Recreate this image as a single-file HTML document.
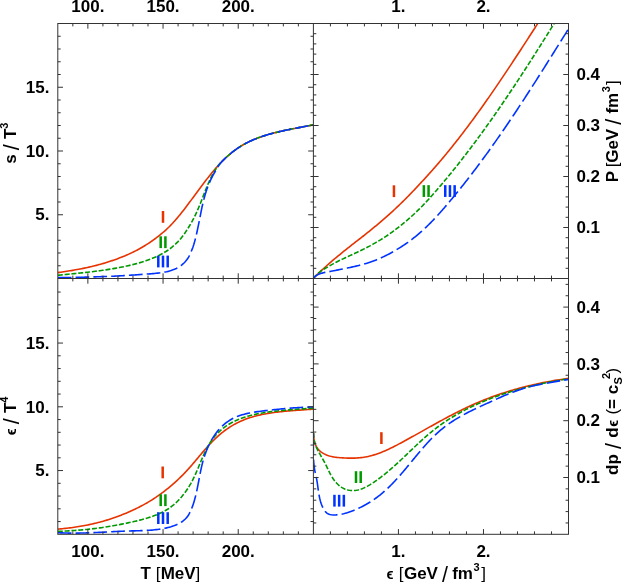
<!DOCTYPE html>
<html><head><meta charset="utf-8"><style>html,body{margin:0;padding:0;background:#fff}svg{display:block;will-change:transform}text{font-family:"Liberation Sans",sans-serif;font-weight:bold;fill:#000}</style></head><body>
<svg width="623" height="582" viewBox="0 0 623 582">
<rect width="623" height="582" fill="#fff"/>
<defs>
<clipPath id="cTL"><rect x="57.8" y="23.5" width="255.6" height="255.0"/></clipPath>
<clipPath id="cTR"><rect x="313.4" y="23.5" width="255.1" height="255.0"/></clipPath>
<clipPath id="cBL"><rect x="57.8" y="278.5" width="255.6" height="255.8"/></clipPath>
<clipPath id="cBR"><rect x="313.4" y="278.5" width="255.1" height="255.8"/></clipPath>
</defs>
<g clip-path="url(#cTL)" fill="none">
<path d="M57.80 272.59 L59.29 272.38 L60.79 272.18 L62.28 271.97 L63.78 271.75 L65.27 271.53 L66.76 271.30 L68.26 271.07 L69.75 270.83 L71.24 270.59 L72.73 270.34 L74.21 270.08 L75.70 269.82 L77.18 269.55 L78.67 269.27 L80.15 268.99 L81.63 268.70 L83.10 268.40 L84.58 268.10 L86.05 267.78 L87.52 267.46 L88.99 267.13 L90.46 266.79 L91.92 266.45 L93.39 266.09 L94.84 265.73 L96.30 265.36 L97.75 264.98 L99.20 264.59 L100.65 264.19 L102.10 263.78 L103.54 263.36 L104.97 262.93 L106.41 262.49 L107.84 262.04 L109.27 261.58 L110.69 261.11 L112.11 260.63 L113.53 260.14 L114.94 259.63 L116.34 259.13 L117.75 258.63 L119.15 258.10 L120.54 257.57 L121.93 257.03 L123.32 256.47 L124.70 255.90 L126.07 255.32 L127.44 254.72 L128.81 254.11 L130.17 253.49 L131.52 252.86 L132.87 252.21 L134.22 251.55 L135.56 250.88 L136.89 250.20 L138.21 249.50 L139.53 248.79 L140.84 248.05 L142.15 247.29 L143.44 246.52 L144.73 245.73 L146.01 244.94 L147.28 244.13 L148.55 243.31 L149.80 242.47 L151.05 241.63 L152.28 240.77 L153.51 239.90 L154.72 239.02 L155.93 238.12 L157.13 237.21 L158.31 236.30 L159.48 235.37 L160.65 234.43 L161.80 233.47 L162.94 232.51 L164.07 231.53 L165.18 230.54 L166.29 229.54 L167.38 228.53 L168.45 227.51 L169.52 226.47 L170.57 225.40 L171.61 224.30 L172.64 223.18 L173.66 222.06 L174.67 220.93 L175.67 219.79 L176.66 218.64 L177.65 217.48 L178.62 216.32 L179.59 215.15 L180.55 213.97 L181.50 212.78 L182.45 211.59 L183.39 210.39 L184.33 209.18 L185.26 207.97 L186.19 206.76 L187.11 205.54 L188.03 204.31 L188.95 203.08 L189.87 201.85 L190.78 200.62 L191.70 199.39 L192.61 198.16 L193.52 196.93 L194.44 195.69 L195.35 194.45 L196.27 193.21 L197.18 191.97 L198.10 190.72 L199.02 189.48 L199.95 188.24 L200.87 187.00 L201.80 185.76 L202.73 184.52 L203.67 183.29 L204.61 182.05 L205.55 180.83 L206.50 179.60 L207.45 178.38 L208.41 177.17 L209.37 175.96 L210.34 174.76 L211.32 173.56 L212.30 172.37 L213.29 171.17 L214.28 169.99 L215.29 168.81 L216.30 167.64 L217.32 166.48 L218.34 165.34 L219.38 164.20 L220.42 163.07 L221.47 161.96 L222.54 160.88 L223.61 159.83 L224.69 158.79 L225.78 157.77 L226.89 156.77 L228.00 155.78 L229.13 154.81 L230.27 153.85 L231.42 152.91 L232.58 151.98 L233.75 151.08 L234.94 150.19 L236.14 149.32 L237.35 148.47 L238.58 147.64 L239.82 146.83 L241.08 146.04 L242.35 145.27 L243.64 144.52 L244.94 143.80 L246.26 143.10 L247.59 142.41 L248.93 141.75 L250.29 141.11 L251.66 140.49 L253.04 139.89 L254.43 139.30 L255.83 138.74 L257.25 138.19 L258.67 137.65 L260.10 137.14 L261.54 136.64 L262.99 136.15 L264.45 135.68 L265.91 135.22 L267.39 134.78 L268.86 134.35 L270.34 133.93 L271.83 133.52 L273.32 133.13 L274.82 132.74 L276.32 132.37 L277.82 132.01 L279.32 131.65 L280.83 131.30 L282.34 130.97 L283.84 130.64 L285.35 130.31 L286.86 130.00 L288.36 129.68 L289.87 129.38 L291.37 129.08 L292.87 128.78 L294.37 128.49 L295.86 128.20 L297.35 127.92 L298.83 127.63 L300.31 127.35 L301.78 127.07 L303.25 126.79 L304.71 126.51 L306.16 126.23 L307.61 125.95 L309.04 125.66 L310.47 125.38 L311.89 125.09 L313.29 124.80" stroke="#e63300" stroke-width="1.6"/>
<path d="M57.81 275.30 L59.29 275.14 L60.78 274.99 L62.26 274.83 L63.75 274.68 L65.24 274.53 L66.74 274.38 L68.23 274.23 L69.72 274.08 L71.22 273.93 L72.72 273.78 L74.21 273.63 L75.71 273.48 L77.21 273.33 L78.71 273.17 L80.21 273.02 L81.71 272.86 L83.21 272.70 L84.72 272.54 L86.22 272.38 L87.72 272.21 L89.23 272.04 L90.73 271.86 L92.23 271.68 L93.74 271.50 L95.24 271.32 L96.74 271.13 L98.25 270.93 L99.75 270.73 L101.25 270.52 L102.76 270.31 L104.26 270.10 L105.76 269.87 L107.26 269.64 L108.76 269.41 L110.26 269.16 L111.76 268.91 L113.26 268.66 L114.75 268.39 L116.25 268.13 L117.74 267.86 L119.24 267.58 L120.73 267.29 L122.22 266.99 L123.71 266.68 L125.20 266.37 L126.69 266.04 L128.17 265.71 L129.65 265.36 L131.14 265.00 L132.61 264.64 L134.09 264.26 L135.57 263.87 L137.04 263.47 L138.51 263.06 L139.98 262.63 L141.45 262.19 L142.91 261.73 L144.37 261.25 L145.82 260.77 L147.27 260.27 L148.71 259.75 L150.14 259.21 L151.56 258.66 L152.97 258.09 L154.37 257.51 L155.76 256.90 L157.13 256.27 L158.49 255.63 L159.83 254.96 L161.16 254.27 L162.47 253.56 L163.76 252.82 L165.03 252.06 L166.28 251.28 L167.51 250.47 L168.72 249.64 L169.91 248.78 L171.10 247.86 L172.27 246.92 L173.42 245.95 L174.55 244.96 L175.65 243.95 L176.73 242.91 L177.79 241.85 L178.82 240.77 L179.84 239.66 L180.84 238.49 L181.81 237.24 L182.77 235.98 L183.71 234.71 L184.63 233.42 L185.53 232.11 L186.41 230.78 L187.27 229.45 L188.12 228.10 L188.93 226.77 L189.72 225.49 L190.50 224.20 L191.25 222.89 L191.99 221.57 L192.72 220.23 L193.43 218.89 L194.12 217.53 L194.80 216.16 L195.46 214.78 L196.11 213.40 L196.75 212.00 L197.38 210.60 L197.99 209.18 L198.60 207.77 L199.20 206.35 L199.79 204.92 L200.38 203.49 L200.95 202.06 L201.50 200.62 L202.05 199.19 L202.59 197.75 L203.14 196.32 L203.68 194.89 L204.23 193.46 L204.78 192.03 L205.34 190.61 L205.91 189.19 L206.48 187.78 L207.06 186.37 L207.64 184.97 L208.24 183.58 L208.85 182.20 L209.48 180.83 L210.12 179.47 L210.77 178.13 L211.44 176.79 L212.12 175.47 L212.83 174.16 L213.56 172.87 L214.30 171.59 L215.07 170.30 L215.86 169.01 L216.68 167.75 L217.52 166.53 L218.38 165.37 L219.27 164.27 L220.19 163.22 L221.16 162.21 L222.16 161.22 L223.17 160.24 L224.21 159.25 L225.28 158.25 L226.36 157.25 L227.46 156.26 L228.59 155.27 L229.73 154.30 L230.90 153.33 L232.08 152.38 L233.28 151.44 L234.50 150.52 L235.73 149.61 L236.99 148.72 L238.26 147.86 L239.54 147.01 L240.84 146.19 L242.16 145.39 L243.48 144.61 L244.83 143.86 L246.18 143.14 L247.55 142.43 L248.93 141.76 L250.31 141.10 L251.71 140.47 L253.12 139.85 L254.53 139.26 L255.96 138.69 L257.39 138.13 L258.82 137.60 L260.27 137.08 L261.71 136.58 L263.17 136.09 L264.62 135.63 L266.08 135.17 L267.55 134.73 L269.02 134.30 L270.49 133.89 L271.97 133.49 L273.45 133.10 L274.93 132.72 L276.41 132.35 L277.89 131.99 L279.38 131.64 L280.87 131.30 L282.36 130.96 L283.84 130.64 L285.33 130.32 L286.82 130.00 L288.31 129.69 L289.80 129.39 L291.29 129.09 L292.78 128.80 L294.26 128.51 L295.74 128.22 L297.22 127.94 L298.70 127.66 L300.18 127.37 L301.65 127.09 L303.12 126.81 L304.59 126.53 L306.05 126.25 L307.51 125.97 L308.96 125.68 L310.41 125.39 L311.85 125.10 L313.29 124.80" stroke="#009900" stroke-width="1.6" stroke-dasharray="5 1.85"/>
<path d="M57.79 277.60 L59.34 277.59 L60.89 277.57 L62.43 277.55 L63.96 277.54 L65.50 277.52 L67.03 277.50 L68.55 277.48 L70.07 277.45 L71.59 277.43 L73.11 277.40 L74.62 277.38 L76.13 277.35 L77.64 277.32 L79.15 277.29 L80.65 277.26 L82.15 277.22 L83.65 277.19 L85.15 277.15 L86.64 277.11 L88.14 277.08 L89.63 277.03 L91.12 276.99 L92.61 276.95 L94.10 276.90 L95.59 276.86 L97.07 276.81 L98.56 276.76 L100.05 276.71 L101.53 276.66 L103.02 276.61 L104.51 276.55 L105.99 276.49 L107.48 276.44 L108.97 276.38 L110.46 276.31 L111.94 276.25 L113.43 276.19 L114.92 276.12 L116.42 276.04 L117.91 275.96 L119.40 275.87 L120.90 275.79 L122.40 275.70 L123.90 275.61 L125.40 275.52 L126.90 275.43 L128.41 275.33 L129.92 275.24 L131.43 275.14 L132.95 275.04 L134.46 274.94 L135.98 274.84 L137.51 274.73 L139.04 274.63 L140.57 274.52 L142.10 274.41 L143.64 274.30 L145.18 274.18 L146.73 274.07 L148.28 273.95 L149.84 273.83 L151.39 273.71 L152.95 273.58 L154.51 273.44 L156.06 273.29 L157.61 273.12 L159.15 272.94 L160.68 272.74 L162.20 272.51 L163.71 272.27 L165.20 271.99 L166.67 271.69 L168.12 271.35 L169.55 270.98 L170.96 270.56 L172.34 270.09 L173.69 269.59 L175.01 269.03 L176.30 268.43 L177.55 267.78 L178.77 267.08 L179.95 266.33 L181.08 265.51 L182.18 264.64 L183.23 263.70 L184.24 262.72 L185.21 261.68 L186.13 260.58 L187.02 259.45 L187.86 258.27 L188.58 257.05 L189.25 255.81 L189.89 254.53 L190.49 253.21 L191.06 251.87 L191.61 250.50 L192.18 249.10 L192.72 247.69 L193.23 246.26 L193.71 244.81 L194.15 243.34 L194.57 241.86 L194.97 240.36 L195.34 238.86 L195.72 237.35 L196.10 235.82 L196.47 234.29 L196.81 232.76 L197.15 231.22 L197.48 229.69 L197.80 228.15 L198.11 226.61 L198.43 225.08 L198.74 223.55 L199.05 222.02 L199.36 220.49 L199.67 218.97 L199.99 217.45 L200.27 215.94 L200.56 214.43 L200.85 212.93 L201.15 211.43 L201.45 209.93 L201.76 208.44 L202.07 206.95 L202.40 205.47 L202.73 204.00 L203.08 202.53 L203.43 201.07 L203.80 199.61 L204.18 198.16 L204.58 196.71 L204.98 195.28 L205.41 193.84 L205.85 192.42 L206.30 191.00 L206.77 189.60 L207.27 188.19 L207.78 186.80 L208.31 185.42 L208.86 184.04 L209.43 182.67 L210.03 181.31 L210.65 179.96 L211.29 178.62 L211.96 177.29 L212.65 175.96 L213.37 174.65 L214.11 173.35 L214.88 171.99 L215.67 170.58 L216.49 169.16 L217.33 167.75 L218.20 166.39 L219.08 165.09 L219.99 163.86 L220.93 162.70 L221.88 161.61 L222.86 160.58 L223.86 159.59 L224.87 158.62 L225.91 157.66 L226.97 156.69 L228.05 155.74 L229.15 154.79 L230.27 153.84 L231.41 152.91 L232.56 151.99 L233.73 151.09 L234.93 150.20 L236.13 149.32 L237.36 148.46 L238.60 147.62 L239.86 146.80 L241.13 146.01 L242.42 145.23 L243.72 144.48 L245.04 143.75 L246.37 143.04 L247.71 142.35 L249.06 141.69 L250.43 141.05 L251.81 140.43 L253.19 139.82 L254.59 139.24 L256.00 138.67 L257.42 138.12 L258.85 137.59 L260.28 137.08 L261.72 136.58 L263.17 136.09 L264.63 135.62 L266.09 135.17 L267.56 134.73 L269.04 134.30 L270.52 133.88 L272.00 133.48 L273.49 133.09 L274.98 132.70 L276.47 132.33 L277.97 131.97 L279.47 131.62 L280.97 131.27 L282.47 130.94 L283.97 130.61 L285.47 130.29 L286.97 129.97 L288.46 129.66 L289.96 129.36 L291.46 129.06 L292.95 128.77 L294.44 128.48 L295.92 128.19 L297.41 127.90 L298.88 127.62 L300.35 127.34 L301.82 127.06 L303.28 126.78 L304.73 126.50 L306.18 126.22 L307.62 125.94 L309.05 125.66 L310.47 125.38 L311.89 125.09 L313.29 124.80" stroke="#0033ff" stroke-width="1.6" stroke-dasharray="13.7 4.1"/>
</g>
<g clip-path="url(#cTR)" fill="none">
<path d="M313.37 278.45 L314.39 277.34 L315.42 276.29 L316.45 275.25 L317.49 274.22 L318.54 273.20 L319.60 272.19 L320.66 271.19 L321.73 270.20 L322.81 269.22 L323.89 268.24 L324.98 267.28 L326.07 266.28 L327.17 265.28 L328.27 264.29 L329.38 263.31 L330.50 262.34 L331.62 261.37 L332.74 260.41 L333.87 259.46 L335.01 258.51 L336.15 257.57 L337.29 256.63 L338.43 255.70 L339.58 254.77 L340.73 253.82 L341.89 252.88 L343.05 251.93 L344.21 250.99 L345.38 250.05 L346.54 249.12 L347.71 248.19 L348.88 247.26 L350.06 246.33 L351.23 245.41 L352.41 244.49 L353.58 243.57 L354.76 242.65 L355.94 241.73 L357.12 240.82 L358.30 239.90 L359.49 238.99 L360.67 238.07 L361.85 237.16 L363.03 236.25 L364.21 235.33 L365.39 234.40 L366.57 233.45 L367.75 232.49 L368.93 231.54 L370.11 230.58 L371.29 229.62 L372.46 228.66 L373.63 227.70 L374.80 226.73 L375.97 225.76 L377.14 224.79 L378.30 223.82 L379.46 222.84 L380.62 221.86 L381.77 220.87 L382.92 219.88 L384.07 218.89 L385.22 217.89 L386.36 216.89 L387.49 215.88 L388.63 214.87 L389.76 213.86 L390.88 212.84 L392.00 211.81 L393.12 210.79 L394.24 209.75 L395.35 208.72 L396.46 207.68 L397.56 206.63 L398.66 205.58 L399.76 204.53 L400.85 203.48 L401.94 202.42 L403.03 201.35 L404.12 200.29 L405.20 199.21 L406.27 198.13 L407.35 197.04 L408.42 195.95 L409.48 194.86 L410.55 193.76 L411.61 192.66 L412.67 191.56 L413.72 190.45 L414.77 189.34 L415.82 188.22 L416.86 187.11 L417.90 185.99 L418.94 184.86 L419.98 183.74 L421.01 182.64 L422.04 181.54 L423.06 180.44 L424.09 179.34 L425.11 178.23 L426.12 177.12 L427.14 176.01 L428.15 174.90 L429.15 173.78 L430.16 172.66 L431.16 171.54 L432.16 170.41 L433.15 169.28 L434.15 168.15 L435.14 167.02 L436.12 165.89 L437.11 164.75 L438.09 163.61 L439.07 162.46 L440.05 161.32 L441.02 160.17 L441.99 159.02 L442.96 157.87 L443.92 156.72 L444.89 155.56 L445.85 154.40 L446.80 153.24 L447.76 152.08 L448.71 150.91 L449.66 149.74 L450.61 148.57 L451.56 147.40 L452.50 146.23 L453.44 145.05 L454.38 143.87 L455.31 142.69 L456.25 141.51 L457.18 140.33 L458.10 139.14 L459.03 137.95 L459.96 136.76 L460.88 135.57 L461.80 134.38 L462.71 133.18 L463.63 131.99 L464.54 130.79 L465.45 129.59 L466.36 128.39 L467.27 127.18 L468.18 125.98 L469.08 124.77 L469.98 123.56 L470.88 122.35 L471.78 121.14 L472.67 119.92 L473.56 118.71 L474.45 117.49 L475.34 116.27 L476.23 115.05 L477.12 113.83 L478.00 112.61 L478.88 111.39 L479.76 110.16 L480.64 108.93 L481.52 107.71 L482.40 106.48 L483.27 105.25 L484.14 104.01 L485.01 102.78 L485.88 101.55 L486.75 100.31 L487.62 99.08 L488.48 97.84 L489.34 96.60 L490.21 95.36 L491.07 94.12 L491.92 92.88 L492.78 91.63 L493.64 90.39 L494.49 89.14 L495.35 87.90 L496.20 86.65 L497.05 85.40 L497.90 84.16 L498.75 82.91 L499.59 81.66 L500.44 80.40 L501.28 79.15 L502.13 77.90 L502.97 76.65 L503.81 75.39 L504.65 74.14 L505.49 72.88 L506.33 71.63 L507.17 70.37 L508.00 69.11 L508.84 67.85 L509.67 66.60 L510.51 65.34 L511.34 64.08 L512.17 62.82 L513.00 61.56 L513.83 60.30 L514.66 59.04 L515.49 57.78 L516.32 56.51 L517.14 55.25 L517.97 53.99 L518.80 52.73 L519.62 51.46 L520.45 50.20 L521.27 48.94 L522.09 47.67 L522.92 46.41 L523.74 45.14 L524.56 43.88 L525.38 42.62 L526.20 41.35 L527.02 40.09 L527.84 38.82 L528.66 37.56 L529.48 36.30 L530.30 35.03 L531.12 33.77 L531.94 32.50 L532.75 31.24 L533.57 29.98 L534.39 28.71 L535.21 27.45 L536.02 26.18 L536.84 24.92 L537.66 23.66 L538.47 22.40 L539.29 21.13 L540.11 19.87 L540.92 18.61 L541.74 17.35 L542.56 16.09 L543.37 14.83 L544.19 13.57 L545.01 12.31" stroke="#e63300" stroke-width="1.6"/>
<path d="M313.34 278.38 L314.36 277.21 L315.40 276.09 L316.46 275.00 L317.55 273.94 L318.67 272.98 L319.80 272.08 L320.96 271.21 L322.14 270.38 L323.34 269.58 L324.56 268.80 L325.79 268.06 L327.05 267.33 L328.31 266.61 L329.60 265.83 L330.89 265.07 L332.20 264.33 L333.52 263.60 L334.85 262.89 L336.19 262.19 L337.54 261.51 L338.90 260.83 L340.26 260.17 L341.63 259.51 L343.01 258.86 L344.39 258.21 L345.77 257.57 L347.15 256.93 L348.53 256.29 L349.91 255.64 L351.30 255.00 L352.68 254.36 L354.06 253.71 L355.44 253.06 L356.81 252.41 L358.19 251.75 L359.56 251.09 L360.93 250.43 L362.29 249.77 L363.66 249.10 L365.02 248.42 L366.37 247.74 L367.72 247.06 L369.07 246.36 L370.41 245.66 L371.74 244.92 L373.07 244.17 L374.40 243.42 L375.71 242.66 L377.03 241.90 L378.33 241.13 L379.63 240.34 L380.92 239.56 L382.20 238.76 L383.47 237.95 L384.74 237.14 L385.99 236.31 L387.24 235.48 L388.48 234.63 L389.71 233.78 L390.94 232.92 L392.15 232.05 L393.36 231.17 L394.56 230.28 L395.75 229.38 L396.93 228.47 L398.11 227.56 L399.28 226.63 L400.44 225.71 L401.60 224.80 L402.74 223.88 L403.88 222.96 L405.02 222.02 L406.14 221.08 L407.27 220.12 L408.38 219.16 L409.49 218.19 L410.59 217.21 L411.68 216.23 L412.77 215.23 L413.86 214.23 L414.94 213.22 L416.01 212.20 L417.07 211.18 L418.13 210.15 L419.19 209.10 L420.24 208.06 L421.29 207.00 L422.33 205.94 L423.36 204.87 L424.39 203.79 L425.42 202.70 L426.44 201.61 L427.46 200.52 L428.47 199.42 L429.48 198.31 L430.49 197.20 L431.49 196.08 L432.49 194.96 L433.48 193.83 L434.48 192.70 L435.46 191.57 L436.45 190.43 L437.43 189.30 L438.41 188.15 L439.39 187.01 L440.37 185.86 L441.34 184.72 L442.31 183.57 L443.28 182.41 L444.25 181.26 L445.22 180.10 L446.18 178.95 L447.14 177.79 L448.10 176.62 L449.05 175.46 L450.01 174.30 L450.96 173.13 L451.91 171.96 L452.86 170.79 L453.80 169.62 L454.74 168.44 L455.69 167.27 L456.63 166.09 L457.56 164.91 L458.50 163.73 L459.43 162.54 L460.36 161.36 L461.29 160.17 L462.22 158.98 L463.14 157.79 L464.07 156.60 L464.99 155.41 L465.91 154.21 L466.83 153.02 L467.74 151.82 L468.66 150.62 L469.57 149.42 L470.48 148.22 L471.39 147.01 L472.29 145.81 L473.20 144.60 L474.10 143.39 L475.00 142.18 L475.90 140.97 L476.80 139.76 L477.70 138.54 L478.59 137.33 L479.49 136.11 L480.38 134.89 L481.27 133.67 L482.15 132.45 L483.04 131.23 L483.92 130.00 L484.81 128.78 L485.69 127.55 L486.57 126.32 L487.45 125.09 L488.32 123.86 L489.20 122.63 L490.07 121.40 L490.94 120.17 L491.81 118.93 L492.68 117.69 L493.55 116.46 L494.42 115.22 L495.28 113.98 L496.14 112.74 L497.01 111.50 L497.87 110.25 L498.72 109.01 L499.58 107.76 L500.44 106.52 L501.29 105.27 L502.15 104.02 L503.00 102.77 L503.85 101.52 L504.70 100.27 L505.55 99.02 L506.39 97.77 L507.24 96.51 L508.08 95.26 L508.93 94.00 L509.77 92.75 L510.61 91.49 L511.45 90.23 L512.29 88.97 L513.13 87.71 L513.96 86.45 L514.80 85.19 L515.63 83.93 L516.47 82.67 L517.30 81.40 L518.13 80.14 L518.96 78.87 L519.79 77.61 L520.61 76.34 L521.44 75.08 L522.27 73.81 L523.09 72.54 L523.92 71.27 L524.74 70.00 L525.56 68.73 L526.38 67.46 L527.20 66.19 L528.02 64.92 L528.84 63.65 L529.66 62.37 L530.47 61.10 L531.29 59.83 L532.10 58.55 L532.92 57.28 L533.73 56.00 L534.54 54.73 L535.35 53.45 L536.16 52.18 L536.97 50.90 L537.78 49.62 L538.59 48.35 L539.40 47.07 L540.21 45.79 L541.01 44.51 L541.82 43.23 L542.62 41.95 L543.43 40.68 L544.23 39.40 L545.04 38.12 L545.84 36.84 L546.64 35.56 L547.44 34.28 L548.24 33.00 L549.04 31.72 L549.84 30.44 L550.64 29.16 L551.44 27.87 L552.24 26.59 L553.04 25.31 L553.84 24.03 L554.63 22.75 L555.43 21.47 L556.23 20.19 L557.02 18.91 L557.82 17.63 L558.61 16.35 L559.41 15.06 L560.20 13.78 L561.00 12.50" stroke="#009900" stroke-width="1.6" stroke-dasharray="5 1.85"/>
<path d="M313.21 278.17 L314.31 277.11 L315.47 276.17 L316.70 275.35 L317.97 274.63 L319.30 274.04 L320.66 273.54 L322.06 273.11 L323.48 272.73 L324.93 272.40 L326.40 272.11 L327.88 271.85 L329.37 271.60 L330.85 271.32 L332.34 271.03 L333.83 270.74 L335.32 270.45 L336.81 270.16 L338.29 269.87 L339.78 269.58 L341.27 269.29 L342.76 268.99 L344.24 268.70 L345.73 268.40 L347.21 268.09 L348.69 267.78 L350.17 267.47 L351.65 267.14 L353.12 266.81 L354.59 266.48 L356.06 266.13 L357.53 265.77 L358.99 265.41 L360.45 265.03 L361.91 264.64 L363.36 264.24 L364.81 263.82 L366.25 263.40 L367.69 262.95 L369.12 262.49 L370.55 262.01 L371.97 261.50 L373.39 260.98 L374.80 260.43 L376.21 259.88 L377.61 259.30 L379.01 258.71 L380.40 258.11 L381.78 257.49 L383.16 256.86 L384.53 256.21 L385.90 255.54 L387.25 254.86 L388.60 254.17 L389.95 253.46 L391.29 252.74 L392.62 252.01 L393.94 251.26 L395.25 250.50 L396.56 249.72 L397.86 248.93 L399.15 248.13 L400.44 247.32 L401.71 246.51 L402.98 245.69 L404.24 244.86 L405.49 244.01 L406.74 243.15 L407.97 242.28 L409.20 241.39 L410.41 240.50 L411.62 239.59 L412.82 238.67 L414.01 237.74 L415.19 236.80 L416.36 235.85 L417.52 234.89 L418.67 233.91 L419.81 232.93 L420.94 231.94 L422.06 230.93 L423.17 229.92 L424.28 228.90 L425.38 227.87 L426.47 226.83 L427.55 225.79 L428.62 224.73 L429.69 223.67 L430.75 222.60 L431.80 221.52 L432.85 220.44 L433.89 219.35 L434.92 218.25 L435.95 217.15 L436.97 216.04 L437.99 214.93 L439.00 213.81 L440.01 212.69 L441.01 211.56 L442.01 210.43 L443.00 209.29 L443.99 208.15 L444.98 207.01 L445.96 205.87 L446.94 204.72 L447.92 203.57 L448.89 202.41 L449.86 201.26 L450.83 200.10 L451.80 198.94 L452.76 197.78 L453.73 196.62 L454.68 195.46 L455.64 194.29 L456.59 193.12 L457.55 191.95 L458.50 190.78 L459.44 189.61 L460.39 188.43 L461.33 187.25 L462.27 186.08 L463.21 184.89 L464.14 183.71 L465.08 182.53 L466.01 181.34 L466.94 180.16 L467.86 178.97 L468.79 177.78 L469.71 176.58 L470.63 175.39 L471.55 174.19 L472.46 173.00 L473.38 171.80 L474.29 170.60 L475.20 169.40 L476.10 168.19 L477.01 166.99 L477.91 165.78 L478.82 164.57 L479.72 163.36 L480.61 162.15 L481.51 160.94 L482.40 159.73 L483.29 158.51 L484.18 157.30 L485.07 156.08 L485.96 154.86 L486.84 153.64 L487.73 152.42 L488.61 151.19 L489.49 149.97 L490.37 148.74 L491.24 147.52 L492.12 146.29 L492.99 145.06 L493.86 143.83 L494.73 142.60 L495.60 141.36 L496.46 140.13 L497.33 138.89 L498.19 137.66 L499.05 136.42 L499.91 135.18 L500.77 133.94 L501.63 132.70 L502.48 131.46 L503.34 130.22 L504.19 128.97 L505.04 127.73 L505.89 126.48 L506.74 125.23 L507.59 123.98 L508.43 122.74 L509.28 121.49 L510.12 120.24 L510.96 118.98 L511.80 117.73 L512.64 116.48 L513.48 115.22 L514.32 113.97 L515.15 112.71 L515.99 111.45 L516.82 110.20 L517.65 108.94 L518.48 107.68 L519.31 106.42 L520.14 105.16 L520.97 103.90 L521.80 102.63 L522.62 101.37 L523.45 100.11 L524.27 98.84 L525.09 97.58 L525.92 96.31 L526.74 95.05 L527.56 93.78 L528.38 92.51 L529.19 91.24 L530.01 89.97 L530.83 88.71 L531.64 87.44 L532.46 86.17 L533.27 84.89 L534.09 83.62 L534.90 82.35 L535.71 81.08 L536.52 79.81 L537.33 78.53 L538.14 77.26 L538.95 75.99 L539.76 74.71 L540.57 73.44 L541.38 72.16 L542.19 70.89 L542.99 69.61 L543.80 68.34 L544.60 67.06 L545.41 65.78 L546.21 64.51 L547.02 63.23 L547.82 61.95 L548.62 60.68 L549.43 59.40 L550.23 58.12 L551.03 56.84 L551.83 55.57 L552.63 54.29 L553.43 53.01 L554.23 51.73 L555.03 50.45 L555.83 49.17 L556.63 47.89 L557.43 46.62 L558.23 45.34 L559.03 44.06 L559.83 42.78 L560.63 41.50 L561.43 40.22 L562.23 38.94 L563.03 37.67 L563.82 36.39 L564.62 35.11 L565.42 33.83 L566.22 32.55 L567.02 31.27 L567.82 30.00 L568.62 28.72 L569.41 27.44 L570.21 26.16 L571.01 24.89 L571.81 23.61 L572.61 22.33 L573.41 21.06 L574.21 19.78 L575.01 18.51" stroke="#0033ff" stroke-width="1.6" stroke-dasharray="13.7 4.1"/>
</g>
<g clip-path="url(#cBL)" fill="none">
<path d="M57.79 529.08 L59.30 528.96 L60.80 528.83 L62.31 528.69 L63.81 528.55 L65.31 528.39 L66.82 528.23 L68.32 528.05 L69.82 527.87 L71.32 527.68 L72.82 527.48 L74.32 527.26 L75.81 527.04 L77.31 526.81 L78.80 526.57 L80.30 526.32 L81.79 526.07 L83.28 525.80 L84.77 525.52 L86.25 525.23 L87.74 524.93 L89.22 524.63 L90.70 524.31 L92.17 523.98 L93.65 523.65 L95.12 523.30 L96.59 522.95 L98.06 522.58 L99.52 522.21 L100.98 521.81 L102.44 521.40 L103.90 520.98 L105.35 520.55 L106.80 520.11 L108.24 519.67 L109.68 519.21 L111.12 518.74 L112.55 518.26 L113.98 517.77 L115.41 517.27 L116.83 516.76 L118.25 516.24 L119.66 515.71 L121.07 515.17 L122.48 514.62 L123.88 514.06 L125.27 513.49 L126.67 512.91 L128.05 512.32 L129.43 511.71 L130.81 511.10 L132.18 510.48 L133.54 509.85 L134.90 509.20 L136.26 508.55 L137.61 507.88 L138.95 507.21 L140.29 506.52 L141.62 505.83 L142.95 505.12 L144.27 504.40 L145.58 503.67 L146.89 502.93 L148.19 502.18 L149.48 501.42 L150.77 500.63 L152.05 499.82 L153.32 499.00 L154.59 498.16 L155.85 497.32 L157.10 496.46 L158.35 495.60 L159.59 494.72 L160.82 493.83 L162.04 492.93 L163.26 492.02 L164.47 491.10 L165.67 490.17 L166.86 489.23 L168.04 488.27 L169.22 487.31 L170.39 486.33 L171.55 485.35 L172.70 484.35 L173.84 483.34 L174.98 482.32 L176.10 481.32 L177.22 480.30 L178.32 479.28 L179.42 478.24 L180.51 477.19 L181.59 476.13 L182.66 475.06 L183.72 473.97 L184.77 472.88 L185.82 471.77 L186.85 470.66 L187.88 469.53 L188.89 468.40 L189.90 467.25 L190.91 466.10 L191.91 464.95 L192.91 463.79 L193.90 462.63 L194.89 461.46 L195.87 460.29 L196.86 459.12 L197.84 457.95 L198.82 456.78 L199.80 455.61 L200.79 454.44 L201.77 453.28 L202.76 452.12 L203.75 450.96 L204.75 449.81 L205.75 448.67 L206.75 447.54 L207.76 446.41 L208.78 445.29 L209.80 444.19 L210.83 443.09 L211.87 442.01 L212.92 440.94 L213.98 439.88 L215.05 438.84 L216.13 437.81 L217.22 436.80 L218.33 435.81 L219.45 434.84 L220.58 433.88 L221.73 432.95 L222.88 432.03 L224.06 431.13 L225.24 430.26 L226.44 429.40 L227.65 428.56 L228.88 427.74 L230.11 426.94 L231.36 426.17 L232.63 425.41 L233.90 424.68 L235.19 423.96 L236.49 423.27 L237.81 422.60 L239.14 421.96 L240.48 421.33 L241.83 420.73 L243.19 420.15 L244.57 419.60 L245.96 419.06 L247.36 418.55 L248.78 418.06 L250.20 417.60 L251.63 417.15 L253.08 416.72 L254.53 416.31 L255.99 415.92 L257.46 415.55 L258.94 415.20 L260.43 414.86 L261.92 414.54 L263.42 414.24 L264.92 413.95 L266.43 413.67 L267.95 413.41 L269.46 413.16 L270.99 412.93 L272.51 412.70 L274.04 412.49 L275.58 412.29 L277.11 412.10 L278.65 411.92 L280.18 411.75 L281.72 411.58 L283.26 411.43 L284.80 411.28 L286.33 411.14 L287.87 411.01 L289.40 410.88 L290.93 410.76 L292.46 410.64 L293.99 410.52 L295.51 410.41 L297.02 410.30 L298.54 410.19 L300.04 410.09 L301.55 409.98 L303.04 409.88 L304.53 409.77 L306.01 409.67 L307.48 409.56 L308.95 409.45 L310.41 409.34 L311.86 409.23 L313.29 409.11" stroke="#e63300" stroke-width="1.6"/>
<path d="M57.80 531.40 L59.34 531.33 L60.89 531.26 L62.43 531.19 L63.96 531.12 L65.49 531.04 L67.02 530.95 L68.54 530.86 L70.05 530.77 L71.57 530.67 L73.07 530.57 L74.58 530.46 L76.08 530.35 L77.58 530.23 L79.08 530.11 L80.57 529.98 L82.06 529.85 L83.55 529.71 L85.03 529.57 L86.51 529.43 L87.99 529.28 L89.47 529.12 L90.95 528.96 L92.43 528.79 L93.90 528.62 L95.38 528.45 L96.85 528.27 L98.32 528.08 L99.79 527.89 L101.26 527.68 L102.74 527.46 L104.21 527.23 L105.68 527.00 L107.15 526.77 L108.62 526.53 L110.10 526.28 L111.57 526.03 L113.05 525.77 L114.52 525.51 L116.00 525.24 L117.48 524.97 L118.96 524.69 L120.45 524.41 L121.93 524.12 L123.42 523.82 L124.91 523.52 L126.40 523.21 L127.90 522.90 L129.40 522.58 L130.90 522.26 L132.41 521.93 L133.91 521.59 L135.42 521.24 L136.93 520.88 L138.43 520.52 L139.93 520.14 L141.43 519.75 L142.93 519.35 L144.42 518.93 L145.90 518.50 L147.38 518.06 L148.84 517.59 L150.30 517.12 L151.75 516.62 L153.19 516.11 L154.61 515.57 L156.02 515.02 L157.42 514.44 L158.80 513.85 L160.17 513.23 L161.52 512.59 L162.85 511.92 L164.17 511.22 L165.46 510.51 L166.74 509.76 L167.99 508.99 L169.22 508.18 L170.43 507.34 L171.61 506.43 L172.78 505.50 L173.92 504.55 L175.04 503.56 L176.13 502.56 L177.21 501.53 L178.26 500.47 L179.29 499.40 L180.30 498.30 L181.29 497.18 L182.26 496.03 L183.20 494.87 L184.13 493.69 L185.03 492.48 L185.91 491.26 L186.77 490.02 L187.61 488.75 L188.43 487.47 L189.23 486.18 L190.00 484.86 L190.76 483.57 L191.49 482.25 L192.21 480.92 L192.90 479.57 L193.58 478.21 L194.24 476.83 L194.89 475.45 L195.53 474.06 L196.15 472.65 L196.77 471.24 L197.37 469.83 L197.97 468.41 L198.57 466.98 L199.16 465.56 L199.76 464.13 L200.35 462.71 L200.94 461.28 L201.54 459.86 L202.14 458.45 L202.75 457.04 L203.37 455.64 L203.99 454.24 L204.63 452.86 L205.28 451.49 L205.95 450.13 L206.63 448.78 L207.33 447.45 L208.05 446.13 L208.79 444.83 L209.55 443.55 L210.34 442.29 L211.16 441.06 L212.00 439.84 L212.87 438.65 L213.77 437.49 L214.70 436.35 L215.66 435.23 L216.66 434.15 L217.68 433.09 L218.73 432.06 L219.81 431.06 L220.92 430.08 L222.06 429.14 L223.22 428.22 L224.40 427.32 L225.60 426.46 L226.83 425.62 L228.08 424.81 L229.35 424.03 L230.64 423.28 L231.95 422.56 L233.28 421.86 L234.62 421.20 L235.98 420.56 L237.35 419.95 L238.74 419.36 L240.14 418.80 L241.55 418.27 L242.98 417.76 L244.41 417.28 L245.86 416.81 L247.32 416.37 L248.78 415.95 L250.25 415.55 L251.73 415.17 L253.22 414.81 L254.71 414.46 L256.21 414.14 L257.71 413.83 L259.22 413.53 L260.73 413.25 L262.24 412.98 L263.75 412.73 L265.26 412.49 L266.77 412.26 L268.28 412.04 L269.78 411.83 L271.29 411.63 L272.79 411.44 L274.30 411.26 L275.80 411.09 L277.30 410.92 L278.80 410.77 L280.30 410.62 L281.80 410.47 L283.30 410.33 L284.79 410.20 L286.29 410.07 L287.79 409.95 L289.28 409.83 L290.78 409.71 L292.28 409.60 L293.77 409.49 L295.27 409.38 L296.77 409.28 L298.26 409.17 L299.76 409.07 L301.26 408.96 L302.76 408.86 L304.26 408.76 L305.77 408.65 L307.27 408.55 L308.77 408.44 L310.28 408.33 L311.79 408.22 L313.30 408.10" stroke="#009900" stroke-width="1.6" stroke-dasharray="5 1.85"/>
<path d="M57.80 532.70 L59.35 532.78 L60.89 532.86 L62.43 532.92 L63.97 532.98 L65.50 533.02 L67.03 533.06 L68.55 533.09 L70.08 533.11 L71.60 533.12 L73.12 533.13 L74.63 533.13 L76.15 533.12 L77.66 533.11 L79.17 533.09 L80.67 533.06 L82.18 533.03 L83.68 532.99 L85.19 532.95 L86.69 532.91 L88.19 532.85 L89.68 532.80 L91.18 532.74 L92.68 532.68 L94.18 532.62 L95.67 532.55 L97.17 532.48 L98.66 532.41 L100.16 532.33 L101.65 532.26 L103.15 532.18 L104.64 532.10 L106.14 532.02 L107.63 531.95 L109.13 531.87 L110.63 531.79 L112.13 531.71 L113.63 531.64 L115.13 531.56 L116.63 531.49 L118.14 531.42 L119.64 531.35 L121.15 531.28 L122.66 531.22 L124.18 531.16 L125.69 531.10 L127.21 531.04 L128.73 531.00 L130.25 530.95 L131.77 530.91 L133.30 530.87 L134.83 530.83 L136.36 530.79 L137.89 530.75 L139.42 530.71 L140.95 530.66 L142.48 530.60 L144.01 530.54 L145.54 530.47 L147.07 530.40 L148.59 530.31 L150.11 530.20 L151.63 530.09 L153.15 529.96 L154.66 529.81 L156.17 529.65 L157.67 529.46 L159.17 529.26 L160.66 529.04 L162.15 528.79 L163.63 528.52 L165.10 528.22 L166.57 527.89 L168.03 527.54 L169.48 527.16 L170.92 526.75 L172.35 526.30 L173.77 525.82 L175.16 525.29 L176.53 524.73 L177.86 524.11 L179.17 523.45 L180.43 522.73 L181.65 521.96 L182.83 521.13 L183.95 520.23 L185.02 519.27 L186.02 518.24 L186.96 517.13 L187.84 515.95 L188.65 514.71 L189.40 513.41 L190.11 512.07 L190.76 510.68 L191.37 509.26 L191.94 507.82 L192.48 506.37 L192.99 504.92 L193.48 503.45 L193.94 501.99 L194.38 500.52 L194.79 499.05 L195.19 497.58 L195.57 496.10 L195.93 494.62 L196.27 493.14 L196.60 491.66 L196.92 490.17 L197.23 488.68 L197.53 487.20 L197.83 485.71 L198.11 484.22 L198.40 482.73 L198.68 481.23 L198.96 479.74 L199.23 478.25 L199.52 476.76 L199.80 475.27 L200.09 473.78 L200.39 472.29 L200.69 470.81 L201.01 469.32 L201.34 467.84 L201.68 466.35 L202.03 464.87 L202.40 463.40 L202.79 461.92 L203.20 460.45 L203.63 458.98 L204.08 457.52 L204.55 456.06 L205.04 454.61 L205.55 453.17 L206.08 451.73 L206.64 450.31 L207.21 448.90 L207.81 447.50 L208.44 446.11 L209.08 444.74 L209.75 443.38 L210.44 442.04 L211.16 440.71 L211.90 439.41 L212.67 438.12 L213.46 436.85 L214.27 435.61 L215.11 434.39 L215.98 433.19 L216.87 432.02 L217.79 430.87 L218.74 429.75 L219.71 428.65 L220.71 427.59 L221.74 426.56 L222.80 425.55 L223.88 424.58 L225.00 423.64 L226.14 422.74 L227.31 421.87 L228.51 421.04 L229.74 420.24 L231.00 419.49 L232.29 418.77 L233.61 418.09 L234.96 417.46 L236.34 416.86 L237.75 416.30 L239.18 415.78 L240.63 415.29 L242.10 414.83 L243.59 414.40 L245.10 414.00 L246.63 413.63 L248.16 413.28 L249.71 412.96 L251.27 412.66 L252.84 412.38 L254.41 412.12 L255.98 411.87 L257.56 411.64 L259.13 411.42 L260.71 411.22 L262.28 411.03 L263.84 410.84 L265.39 410.66 L266.94 410.49 L268.48 410.32 L270.00 410.15 L271.51 409.98 L273.01 409.82 L274.50 409.66 L275.98 409.50 L277.45 409.35 L278.92 409.20 L280.39 409.05 L281.84 408.91 L283.30 408.77 L284.75 408.63 L286.20 408.50 L287.66 408.37 L289.11 408.25 L290.56 408.13 L292.02 408.02 L293.48 407.91 L294.95 407.80 L296.42 407.70 L297.90 407.61 L299.39 407.52 L300.88 407.44 L302.39 407.36 L303.91 407.29 L305.44 407.23 L306.98 407.17 L308.54 407.12 L310.11 407.07 L311.70 407.03 L313.31 407.00" stroke="#0033ff" stroke-width="1.6" stroke-dasharray="13.7 4.1"/>
</g>
<g clip-path="url(#cBR)" fill="none">
<path d="M313.64 433.15 L313.64 434.67 L313.70 436.20 L313.84 437.75 L314.05 439.29 L314.34 440.81 L314.71 442.31 L315.17 443.78 L315.73 445.19 L316.38 446.54 L317.14 447.82 L318.00 449.02 L318.97 450.12 L320.04 451.13 L321.20 452.06 L322.43 452.89 L323.72 453.65 L325.06 454.33 L326.45 454.92 L327.86 455.45 L329.30 455.91 L330.75 456.31 L332.23 456.65 L333.73 456.93 L335.24 457.18 L336.76 457.38 L338.28 457.54 L339.82 457.68 L341.36 457.79 L342.89 457.88 L344.43 457.96 L345.96 458.03 L347.49 458.08 L349.02 458.12 L350.53 458.14 L352.05 458.14 L353.56 458.12 L355.06 458.08 L356.56 458.01 L358.06 457.92 L359.55 457.80 L361.03 457.65 L362.51 457.47 L363.98 457.25 L365.44 457.00 L366.90 456.72 L368.35 456.41 L369.80 456.07 L371.24 455.70 L372.68 455.30 L374.11 454.87 L375.53 454.42 L376.95 453.95 L378.37 453.45 L379.78 452.93 L381.19 452.39 L382.59 451.82 L383.98 451.24 L385.38 450.64 L386.76 450.03 L388.15 449.40 L389.53 448.75 L390.90 448.09 L392.28 447.42 L393.65 446.74 L395.01 446.04 L396.38 445.34 L397.74 444.63 L399.09 443.91 L400.45 443.19 L401.80 442.46 L403.15 441.73 L404.49 441.00 L405.84 440.26 L407.18 439.53 L408.52 438.79 L409.86 438.05 L411.19 437.31 L412.53 436.57 L413.86 435.83 L415.19 435.08 L416.52 434.34 L417.85 433.60 L419.18 432.85 L420.51 432.11 L421.83 431.37 L423.16 430.62 L424.48 429.88 L425.81 429.14 L427.13 428.40 L428.45 427.66 L429.77 426.92 L431.10 426.18 L432.42 425.45 L433.74 424.71 L435.06 423.98 L436.39 423.25 L437.71 422.52 L439.03 421.79 L440.36 421.07 L441.68 420.35 L443.01 419.63 L444.33 418.91 L445.66 418.20 L446.99 417.49 L448.32 416.78 L449.65 416.08 L450.99 415.38 L452.32 414.68 L453.66 413.99 L454.99 413.31 L456.33 412.62 L457.68 411.94 L459.02 411.27 L460.37 410.60 L461.72 409.93 L463.07 409.28 L464.42 408.62 L465.78 407.97 L467.14 407.33 L468.50 406.69 L469.86 406.06 L471.23 405.43 L472.60 404.81 L473.98 404.20 L475.36 403.59 L476.74 402.99 L478.12 402.40 L479.51 401.81 L480.91 401.23 L482.30 400.66 L483.70 400.10 L485.11 399.54 L486.52 398.99 L487.93 398.44 L489.34 397.90 L490.76 397.37 L492.18 396.85 L493.60 396.33 L495.03 395.82 L496.46 395.31 L497.89 394.81 L499.32 394.32 L500.76 393.84 L502.20 393.36 L503.65 392.89 L505.09 392.43 L506.54 391.97 L507.99 391.52 L509.44 391.07 L510.90 390.63 L512.35 390.20 L513.81 389.77 L515.27 389.36 L516.74 388.94 L518.20 388.54 L519.67 388.14 L521.14 387.74 L522.61 387.36 L524.08 386.98 L525.55 386.60 L527.02 386.23 L528.50 385.87 L529.98 385.52 L531.46 385.17 L532.93 384.82 L534.42 384.49 L535.90 384.16 L537.38 383.83 L538.86 383.51 L540.35 383.20 L541.83 382.90 L543.32 382.60 L544.80 382.30 L546.29 382.01 L547.78 381.73 L549.26 381.46 L550.75 381.19 L552.24 380.92 L553.73 380.66 L555.21 380.41 L556.70 380.16 L558.19 379.92 L559.68 379.69 L561.17 379.46 L562.65 379.24 L564.14 379.02 L565.63 378.81 L567.11 378.60 L568.60 378.40" stroke="#e63300" stroke-width="1.6"/>
<path d="M313.60 433.16 L313.53 434.77 L313.55 436.34 L313.68 437.87 L313.88 439.37 L314.17 440.85 L314.54 442.29 L314.97 443.71 L315.46 445.11 L316.01 446.49 L316.61 447.85 L317.25 449.19 L317.93 450.52 L318.64 451.85 L319.37 453.16 L320.11 454.47 L320.87 455.78 L321.63 457.09 L322.39 458.41 L323.14 459.73 L323.88 461.05 L324.60 462.39 L325.29 463.74 L325.96 465.10 L326.62 466.47 L327.27 467.83 L327.93 469.20 L328.58 470.56 L329.25 471.92 L329.94 473.26 L330.65 474.59 L331.39 475.90 L332.16 477.19 L332.97 478.46 L333.83 479.70 L334.75 480.91 L335.71 482.08 L336.72 483.21 L337.78 484.28 L338.89 485.29 L340.05 486.23 L341.25 487.09 L342.50 487.87 L343.79 488.55 L345.12 489.14 L346.50 489.62 L347.90 490.01 L349.33 490.29 L350.76 490.48 L352.21 490.56 L353.65 490.55 L355.08 490.45 L356.51 490.26 L357.92 489.98 L359.33 489.62 L360.72 489.19 L362.11 488.70 L363.49 488.14 L364.85 487.52 L366.21 486.85 L367.55 486.14 L368.88 485.38 L370.20 484.60 L371.51 483.78 L372.81 482.93 L374.10 482.07 L375.37 481.20 L376.64 480.31 L377.89 479.42 L379.13 478.51 L380.36 477.59 L381.58 476.66 L382.79 475.73 L383.99 474.78 L385.18 473.82 L386.36 472.86 L387.53 471.89 L388.70 470.91 L389.86 469.92 L391.01 468.93 L392.16 467.93 L393.29 466.93 L394.43 465.92 L395.55 464.90 L396.67 463.88 L397.79 462.86 L398.90 461.83 L400.01 460.80 L401.12 459.77 L402.22 458.73 L403.31 457.70 L404.41 456.66 L405.50 455.62 L406.59 454.57 L407.68 453.53 L408.77 452.49 L409.86 451.45 L410.95 450.41 L412.04 449.37 L413.13 448.33 L414.22 447.29 L415.31 446.26 L416.40 445.23 L417.50 444.20 L418.59 443.18 L419.69 442.16 L420.80 441.15 L421.90 440.14 L423.01 439.13 L424.13 438.13 L425.25 437.14 L426.37 436.16 L427.50 435.18 L428.64 434.21 L429.78 433.24 L430.93 432.29 L432.09 431.34 L433.25 430.41 L434.42 429.48 L435.60 428.56 L436.79 427.65 L437.99 426.75 L439.19 425.87 L440.40 424.99 L441.62 424.12 L442.85 423.26 L444.08 422.41 L445.33 421.58 L446.58 420.75 L447.83 419.93 L449.10 419.12 L450.37 418.31 L451.64 417.52 L452.93 416.74 L454.22 415.97 L455.52 415.20 L456.82 414.45 L458.13 413.70 L459.45 412.96 L460.77 412.24 L462.10 411.52 L463.43 410.81 L464.77 410.10 L466.11 409.41 L467.46 408.73 L468.82 408.05 L470.18 407.38 L471.55 406.73 L472.92 406.08 L474.29 405.43 L475.67 404.80 L477.06 404.17 L478.45 403.56 L479.84 402.95 L481.24 402.35 L482.64 401.75 L484.05 401.17 L485.46 400.59 L486.87 400.02 L488.29 399.46 L489.71 398.90 L491.14 398.36 L492.57 397.82 L494.00 397.29 L495.43 396.76 L496.87 396.25 L498.31 395.74 L499.76 395.24 L501.20 394.74 L502.65 394.25 L504.10 393.77 L505.55 393.30 L507.01 392.83 L508.47 392.37 L509.93 391.92 L511.39 391.48 L512.85 391.04 L514.32 390.60 L515.78 390.18 L517.25 389.76 L518.72 389.35 L520.19 388.94 L521.66 388.54 L523.13 388.15 L524.61 387.76 L526.08 387.38 L527.55 387.01 L529.03 386.64 L530.50 386.28 L531.98 385.92 L533.45 385.57 L534.93 385.23 L536.40 384.89 L537.88 384.55 L539.35 384.23 L540.83 383.91 L542.30 383.59 L543.77 383.28 L545.25 382.97 L546.72 382.68 L548.19 382.38 L549.65 382.09 L551.12 381.81 L552.59 381.53 L554.05 381.26 L555.52 380.99 L556.98 380.73 L558.44 380.47 L559.89 380.22 L561.35 379.97 L562.80 379.72 L564.25 379.49 L565.70 379.25 L567.15 379.02 L568.59 378.80" stroke="#009900" stroke-width="1.6" stroke-dasharray="5 1.85"/>
<path d="M313.37 433.21 L313.41 434.71 L313.44 436.21 L313.45 437.72 L313.45 439.22 L313.45 440.73 L313.44 442.24 L313.42 443.75 L313.41 445.26 L313.39 446.78 L313.38 448.29 L313.37 449.80 L313.37 451.31 L313.37 452.82 L313.39 454.33 L313.42 455.84 L313.46 457.35 L313.52 458.86 L313.60 460.36 L313.70 461.86 L313.82 463.36 L313.97 464.86 L314.15 466.36 L314.35 467.85 L314.59 469.34 L314.86 470.82 L315.16 472.30 L315.48 473.78 L315.81 475.26 L316.14 476.73 L316.45 478.21 L316.74 479.68 L317.00 481.16 L317.24 482.64 L317.46 484.13 L317.67 485.62 L317.88 487.11 L318.08 488.61 L318.29 490.11 L318.51 491.61 L318.74 493.11 L318.99 494.60 L319.26 496.09 L319.56 497.57 L319.89 499.04 L320.26 500.50 L320.67 501.95 L321.13 503.37 L321.63 504.78 L322.19 506.17 L322.82 507.53 L323.50 508.87 L324.27 510.15 L325.13 511.34 L326.10 512.42 L327.20 513.33 L328.44 514.05 L329.85 514.54 L331.38 514.82 L332.99 514.94 L334.59 514.96 L336.17 514.90 L337.71 514.78 L339.23 514.59 L340.73 514.35 L342.20 514.05 L343.66 513.71 L345.10 513.33 L346.53 512.91 L347.95 512.46 L349.37 511.99 L350.78 511.49 L352.19 510.97 L353.59 510.42 L354.99 509.86 L356.38 509.27 L357.77 508.66 L359.14 508.03 L360.51 507.37 L361.87 506.70 L363.22 506.00 L364.56 505.29 L365.89 504.56 L367.20 503.80 L368.51 503.03 L369.80 502.24 L371.08 501.43 L372.35 500.60 L373.60 499.76 L374.84 498.89 L376.07 498.01 L377.27 497.12 L378.47 496.21 L379.65 495.28 L380.81 494.34 L381.97 493.38 L383.11 492.41 L384.24 491.42 L385.35 490.43 L386.46 489.41 L387.56 488.39 L388.64 487.36 L389.71 486.31 L390.78 485.26 L391.83 484.19 L392.88 483.11 L393.92 482.03 L394.95 480.93 L395.97 479.83 L396.99 478.72 L398.00 477.60 L399.00 476.48 L400.00 475.35 L400.99 474.21 L401.98 473.07 L402.96 471.92 L403.94 470.77 L404.91 469.62 L405.88 468.46 L406.85 467.30 L407.82 466.13 L408.78 464.97 L409.74 463.80 L410.70 462.63 L411.66 461.46 L412.62 460.29 L413.58 459.12 L414.55 457.96 L415.51 456.79 L416.47 455.62 L417.44 454.46 L418.40 453.30 L419.37 452.15 L420.35 450.99 L421.32 449.84 L422.31 448.70 L423.29 447.56 L424.28 446.43 L425.28 445.30 L426.28 444.18 L427.28 443.07 L428.30 441.96 L429.32 440.87 L430.35 439.79 L431.38 438.73 L432.42 437.68 L433.48 436.64 L434.54 435.61 L435.61 434.60 L436.69 433.59 L437.78 432.60 L438.88 431.62 L440.00 430.65 L441.12 429.70 L442.26 428.76 L443.41 427.83 L444.57 426.92 L445.75 426.03 L446.93 425.15 L448.13 424.29 L449.35 423.44 L450.57 422.60 L451.81 421.78 L453.05 420.97 L454.31 420.17 L455.58 419.39 L456.85 418.62 L458.14 417.86 L459.43 417.12 L460.74 416.37 L462.05 415.63 L463.36 414.89 L464.69 414.17 L466.02 413.46 L467.36 412.75 L468.70 412.06 L470.05 411.37 L471.40 410.69 L472.76 410.02 L474.12 409.35 L475.48 408.69 L476.85 408.04 L478.22 407.40 L479.60 406.76 L480.97 406.12 L482.35 405.49 L483.73 404.87 L485.10 404.24 L486.48 403.63 L487.86 403.01 L489.24 402.40 L490.61 401.78 L491.99 401.14 L493.37 400.51 L494.74 399.88 L496.12 399.25 L497.49 398.63 L498.87 398.02 L500.24 397.41 L501.62 396.80 L503.00 396.20 L504.38 395.61 L505.76 395.03 L507.15 394.45 L508.54 393.88 L509.93 393.32 L511.32 392.77 L512.72 392.23 L514.12 391.70 L515.53 391.18 L516.94 390.67 L518.35 390.16 L519.77 389.68 L521.20 389.21 L522.63 388.76 L524.07 388.32 L525.51 387.90 L526.96 387.48 L528.42 387.09 L529.88 386.70 L531.35 386.33 L532.83 385.98 L534.31 385.63 L535.80 385.30 L537.29 384.97 L538.78 384.66 L540.28 384.36 L541.78 384.06 L543.28 383.77 L544.79 383.49 L546.29 383.22 L547.80 382.95 L549.30 382.68 L550.81 382.42 L552.31 382.17 L553.81 381.91 L555.31 381.66 L556.81 381.40 L558.30 381.15 L559.79 380.90 L561.27 380.66 L562.75 380.41 L564.22 380.16 L565.69 379.91 L567.15 379.66 L568.60 379.40" stroke="#0033ff" stroke-width="1.6" stroke-dasharray="13.7 4.1" stroke-dashoffset="9.35"/>
</g>
<g stroke="#333" stroke-width="1" fill="none">
<rect x="57.8" y="23.5" width="510.7" height="510.8"/>
<line x1="313.4" y1="23.5" x2="313.4" y2="534.3"/>
<line x1="57.8" y1="278.5" x2="568.5" y2="278.5"/>
<line x1="72.84" y1="23.50" x2="72.84" y2="26.40"/>
<line x1="72.84" y1="278.50" x2="72.84" y2="275.60"/>
<line x1="72.84" y1="278.50" x2="72.84" y2="281.40"/>
<line x1="72.84" y1="534.30" x2="72.84" y2="531.40"/>
<line x1="87.87" y1="23.50" x2="87.87" y2="28.70"/>
<line x1="87.87" y1="278.50" x2="87.87" y2="273.30"/>
<line x1="87.87" y1="278.50" x2="87.87" y2="283.70"/>
<line x1="87.87" y1="534.30" x2="87.87" y2="529.10"/>
<line x1="102.91" y1="23.50" x2="102.91" y2="26.40"/>
<line x1="102.91" y1="278.50" x2="102.91" y2="275.60"/>
<line x1="102.91" y1="278.50" x2="102.91" y2="281.40"/>
<line x1="102.91" y1="534.30" x2="102.91" y2="531.40"/>
<line x1="117.94" y1="23.50" x2="117.94" y2="26.40"/>
<line x1="117.94" y1="278.50" x2="117.94" y2="275.60"/>
<line x1="117.94" y1="278.50" x2="117.94" y2="281.40"/>
<line x1="117.94" y1="534.30" x2="117.94" y2="531.40"/>
<line x1="132.98" y1="23.50" x2="132.98" y2="26.40"/>
<line x1="132.98" y1="278.50" x2="132.98" y2="275.60"/>
<line x1="132.98" y1="278.50" x2="132.98" y2="281.40"/>
<line x1="132.98" y1="534.30" x2="132.98" y2="531.40"/>
<line x1="148.01" y1="23.50" x2="148.01" y2="26.40"/>
<line x1="148.01" y1="278.50" x2="148.01" y2="275.60"/>
<line x1="148.01" y1="278.50" x2="148.01" y2="281.40"/>
<line x1="148.01" y1="534.30" x2="148.01" y2="531.40"/>
<line x1="163.05" y1="23.50" x2="163.05" y2="28.70"/>
<line x1="163.05" y1="278.50" x2="163.05" y2="273.30"/>
<line x1="163.05" y1="278.50" x2="163.05" y2="283.70"/>
<line x1="163.05" y1="534.30" x2="163.05" y2="529.10"/>
<line x1="178.08" y1="23.50" x2="178.08" y2="26.40"/>
<line x1="178.08" y1="278.50" x2="178.08" y2="275.60"/>
<line x1="178.08" y1="278.50" x2="178.08" y2="281.40"/>
<line x1="178.08" y1="534.30" x2="178.08" y2="531.40"/>
<line x1="193.12" y1="23.50" x2="193.12" y2="26.40"/>
<line x1="193.12" y1="278.50" x2="193.12" y2="275.60"/>
<line x1="193.12" y1="278.50" x2="193.12" y2="281.40"/>
<line x1="193.12" y1="534.30" x2="193.12" y2="531.40"/>
<line x1="208.15" y1="23.50" x2="208.15" y2="26.40"/>
<line x1="208.15" y1="278.50" x2="208.15" y2="275.60"/>
<line x1="208.15" y1="278.50" x2="208.15" y2="281.40"/>
<line x1="208.15" y1="534.30" x2="208.15" y2="531.40"/>
<line x1="223.19" y1="23.50" x2="223.19" y2="26.40"/>
<line x1="223.19" y1="278.50" x2="223.19" y2="275.60"/>
<line x1="223.19" y1="278.50" x2="223.19" y2="281.40"/>
<line x1="223.19" y1="534.30" x2="223.19" y2="531.40"/>
<line x1="238.22" y1="23.50" x2="238.22" y2="28.70"/>
<line x1="238.22" y1="278.50" x2="238.22" y2="273.30"/>
<line x1="238.22" y1="278.50" x2="238.22" y2="283.70"/>
<line x1="238.22" y1="534.30" x2="238.22" y2="529.10"/>
<line x1="253.26" y1="23.50" x2="253.26" y2="26.40"/>
<line x1="253.26" y1="278.50" x2="253.26" y2="275.60"/>
<line x1="253.26" y1="278.50" x2="253.26" y2="281.40"/>
<line x1="253.26" y1="534.30" x2="253.26" y2="531.40"/>
<line x1="268.29" y1="23.50" x2="268.29" y2="26.40"/>
<line x1="268.29" y1="278.50" x2="268.29" y2="275.60"/>
<line x1="268.29" y1="278.50" x2="268.29" y2="281.40"/>
<line x1="268.29" y1="534.30" x2="268.29" y2="531.40"/>
<line x1="283.33" y1="23.50" x2="283.33" y2="26.40"/>
<line x1="283.33" y1="278.50" x2="283.33" y2="275.60"/>
<line x1="283.33" y1="278.50" x2="283.33" y2="281.40"/>
<line x1="283.33" y1="534.30" x2="283.33" y2="531.40"/>
<line x1="298.36" y1="23.50" x2="298.36" y2="26.40"/>
<line x1="298.36" y1="278.50" x2="298.36" y2="275.60"/>
<line x1="298.36" y1="278.50" x2="298.36" y2="281.40"/>
<line x1="298.36" y1="534.30" x2="298.36" y2="531.40"/>
<line x1="330.41" y1="23.50" x2="330.41" y2="26.40"/>
<line x1="330.41" y1="278.50" x2="330.41" y2="275.60"/>
<line x1="330.41" y1="278.50" x2="330.41" y2="281.40"/>
<line x1="330.41" y1="534.30" x2="330.41" y2="531.40"/>
<line x1="347.41" y1="23.50" x2="347.41" y2="26.40"/>
<line x1="347.41" y1="278.50" x2="347.41" y2="275.60"/>
<line x1="347.41" y1="278.50" x2="347.41" y2="281.40"/>
<line x1="347.41" y1="534.30" x2="347.41" y2="531.40"/>
<line x1="364.42" y1="23.50" x2="364.42" y2="26.40"/>
<line x1="364.42" y1="278.50" x2="364.42" y2="275.60"/>
<line x1="364.42" y1="278.50" x2="364.42" y2="281.40"/>
<line x1="364.42" y1="534.30" x2="364.42" y2="531.40"/>
<line x1="381.43" y1="23.50" x2="381.43" y2="26.40"/>
<line x1="381.43" y1="278.50" x2="381.43" y2="275.60"/>
<line x1="381.43" y1="278.50" x2="381.43" y2="281.40"/>
<line x1="381.43" y1="534.30" x2="381.43" y2="531.40"/>
<line x1="398.43" y1="23.50" x2="398.43" y2="28.70"/>
<line x1="398.43" y1="278.50" x2="398.43" y2="273.30"/>
<line x1="398.43" y1="278.50" x2="398.43" y2="283.70"/>
<line x1="398.43" y1="534.30" x2="398.43" y2="529.10"/>
<line x1="415.44" y1="23.50" x2="415.44" y2="26.40"/>
<line x1="415.44" y1="278.50" x2="415.44" y2="275.60"/>
<line x1="415.44" y1="278.50" x2="415.44" y2="281.40"/>
<line x1="415.44" y1="534.30" x2="415.44" y2="531.40"/>
<line x1="432.45" y1="23.50" x2="432.45" y2="26.40"/>
<line x1="432.45" y1="278.50" x2="432.45" y2="275.60"/>
<line x1="432.45" y1="278.50" x2="432.45" y2="281.40"/>
<line x1="432.45" y1="534.30" x2="432.45" y2="531.40"/>
<line x1="449.45" y1="23.50" x2="449.45" y2="26.40"/>
<line x1="449.45" y1="278.50" x2="449.45" y2="275.60"/>
<line x1="449.45" y1="278.50" x2="449.45" y2="281.40"/>
<line x1="449.45" y1="534.30" x2="449.45" y2="531.40"/>
<line x1="466.46" y1="23.50" x2="466.46" y2="26.40"/>
<line x1="466.46" y1="278.50" x2="466.46" y2="275.60"/>
<line x1="466.46" y1="278.50" x2="466.46" y2="281.40"/>
<line x1="466.46" y1="534.30" x2="466.46" y2="531.40"/>
<line x1="483.47" y1="23.50" x2="483.47" y2="28.70"/>
<line x1="483.47" y1="278.50" x2="483.47" y2="273.30"/>
<line x1="483.47" y1="278.50" x2="483.47" y2="283.70"/>
<line x1="483.47" y1="534.30" x2="483.47" y2="529.10"/>
<line x1="500.47" y1="23.50" x2="500.47" y2="26.40"/>
<line x1="500.47" y1="278.50" x2="500.47" y2="275.60"/>
<line x1="500.47" y1="278.50" x2="500.47" y2="281.40"/>
<line x1="500.47" y1="534.30" x2="500.47" y2="531.40"/>
<line x1="517.48" y1="23.50" x2="517.48" y2="26.40"/>
<line x1="517.48" y1="278.50" x2="517.48" y2="275.60"/>
<line x1="517.48" y1="278.50" x2="517.48" y2="281.40"/>
<line x1="517.48" y1="534.30" x2="517.48" y2="531.40"/>
<line x1="534.49" y1="23.50" x2="534.49" y2="26.40"/>
<line x1="534.49" y1="278.50" x2="534.49" y2="275.60"/>
<line x1="534.49" y1="278.50" x2="534.49" y2="281.40"/>
<line x1="534.49" y1="534.30" x2="534.49" y2="531.40"/>
<line x1="551.49" y1="23.50" x2="551.49" y2="26.40"/>
<line x1="551.49" y1="278.50" x2="551.49" y2="275.60"/>
<line x1="551.49" y1="278.50" x2="551.49" y2="281.40"/>
<line x1="551.49" y1="534.30" x2="551.49" y2="531.40"/>
<line x1="57.80" y1="265.75" x2="60.70" y2="265.75"/>
<line x1="313.40" y1="265.75" x2="310.50" y2="265.75"/>
<line x1="57.80" y1="521.55" x2="60.70" y2="521.55"/>
<line x1="313.40" y1="521.55" x2="310.50" y2="521.55"/>
<line x1="57.80" y1="253.00" x2="60.70" y2="253.00"/>
<line x1="313.40" y1="253.00" x2="310.50" y2="253.00"/>
<line x1="57.80" y1="508.80" x2="60.70" y2="508.80"/>
<line x1="313.40" y1="508.80" x2="310.50" y2="508.80"/>
<line x1="57.80" y1="240.25" x2="60.70" y2="240.25"/>
<line x1="313.40" y1="240.25" x2="310.50" y2="240.25"/>
<line x1="57.80" y1="496.05" x2="60.70" y2="496.05"/>
<line x1="313.40" y1="496.05" x2="310.50" y2="496.05"/>
<line x1="57.80" y1="227.50" x2="60.70" y2="227.50"/>
<line x1="313.40" y1="227.50" x2="310.50" y2="227.50"/>
<line x1="57.80" y1="483.30" x2="60.70" y2="483.30"/>
<line x1="313.40" y1="483.30" x2="310.50" y2="483.30"/>
<line x1="57.80" y1="214.75" x2="63.00" y2="214.75"/>
<line x1="313.40" y1="214.75" x2="308.20" y2="214.75"/>
<line x1="57.80" y1="470.55" x2="63.00" y2="470.55"/>
<line x1="313.40" y1="470.55" x2="308.20" y2="470.55"/>
<line x1="57.80" y1="202.00" x2="60.70" y2="202.00"/>
<line x1="313.40" y1="202.00" x2="310.50" y2="202.00"/>
<line x1="57.80" y1="457.80" x2="60.70" y2="457.80"/>
<line x1="313.40" y1="457.80" x2="310.50" y2="457.80"/>
<line x1="57.80" y1="189.25" x2="60.70" y2="189.25"/>
<line x1="313.40" y1="189.25" x2="310.50" y2="189.25"/>
<line x1="57.80" y1="445.05" x2="60.70" y2="445.05"/>
<line x1="313.40" y1="445.05" x2="310.50" y2="445.05"/>
<line x1="57.80" y1="176.50" x2="60.70" y2="176.50"/>
<line x1="313.40" y1="176.50" x2="310.50" y2="176.50"/>
<line x1="57.80" y1="432.30" x2="60.70" y2="432.30"/>
<line x1="313.40" y1="432.30" x2="310.50" y2="432.30"/>
<line x1="57.80" y1="163.75" x2="60.70" y2="163.75"/>
<line x1="313.40" y1="163.75" x2="310.50" y2="163.75"/>
<line x1="57.80" y1="419.55" x2="60.70" y2="419.55"/>
<line x1="313.40" y1="419.55" x2="310.50" y2="419.55"/>
<line x1="57.80" y1="151.00" x2="63.00" y2="151.00"/>
<line x1="313.40" y1="151.00" x2="308.20" y2="151.00"/>
<line x1="57.80" y1="406.80" x2="63.00" y2="406.80"/>
<line x1="313.40" y1="406.80" x2="308.20" y2="406.80"/>
<line x1="57.80" y1="138.25" x2="60.70" y2="138.25"/>
<line x1="313.40" y1="138.25" x2="310.50" y2="138.25"/>
<line x1="57.80" y1="394.05" x2="60.70" y2="394.05"/>
<line x1="313.40" y1="394.05" x2="310.50" y2="394.05"/>
<line x1="57.80" y1="125.50" x2="60.70" y2="125.50"/>
<line x1="313.40" y1="125.50" x2="310.50" y2="125.50"/>
<line x1="57.80" y1="381.30" x2="60.70" y2="381.30"/>
<line x1="313.40" y1="381.30" x2="310.50" y2="381.30"/>
<line x1="57.80" y1="112.75" x2="60.70" y2="112.75"/>
<line x1="313.40" y1="112.75" x2="310.50" y2="112.75"/>
<line x1="57.80" y1="368.55" x2="60.70" y2="368.55"/>
<line x1="313.40" y1="368.55" x2="310.50" y2="368.55"/>
<line x1="57.80" y1="100.00" x2="60.70" y2="100.00"/>
<line x1="313.40" y1="100.00" x2="310.50" y2="100.00"/>
<line x1="57.80" y1="355.80" x2="60.70" y2="355.80"/>
<line x1="313.40" y1="355.80" x2="310.50" y2="355.80"/>
<line x1="57.80" y1="87.25" x2="63.00" y2="87.25"/>
<line x1="313.40" y1="87.25" x2="308.20" y2="87.25"/>
<line x1="57.80" y1="343.05" x2="63.00" y2="343.05"/>
<line x1="313.40" y1="343.05" x2="308.20" y2="343.05"/>
<line x1="57.80" y1="74.50" x2="60.70" y2="74.50"/>
<line x1="313.40" y1="74.50" x2="310.50" y2="74.50"/>
<line x1="57.80" y1="330.30" x2="60.70" y2="330.30"/>
<line x1="313.40" y1="330.30" x2="310.50" y2="330.30"/>
<line x1="57.80" y1="61.75" x2="60.70" y2="61.75"/>
<line x1="313.40" y1="61.75" x2="310.50" y2="61.75"/>
<line x1="57.80" y1="317.55" x2="60.70" y2="317.55"/>
<line x1="313.40" y1="317.55" x2="310.50" y2="317.55"/>
<line x1="57.80" y1="49.00" x2="60.70" y2="49.00"/>
<line x1="313.40" y1="49.00" x2="310.50" y2="49.00"/>
<line x1="57.80" y1="304.80" x2="60.70" y2="304.80"/>
<line x1="313.40" y1="304.80" x2="310.50" y2="304.80"/>
<line x1="57.80" y1="36.25" x2="60.70" y2="36.25"/>
<line x1="313.40" y1="36.25" x2="310.50" y2="36.25"/>
<line x1="57.80" y1="292.05" x2="60.70" y2="292.05"/>
<line x1="313.40" y1="292.05" x2="310.50" y2="292.05"/>
<line x1="313.40" y1="268.30" x2="316.30" y2="268.30"/>
<line x1="568.50" y1="268.30" x2="565.60" y2="268.30"/>
<line x1="313.40" y1="258.10" x2="316.30" y2="258.10"/>
<line x1="568.50" y1="258.10" x2="565.60" y2="258.10"/>
<line x1="313.40" y1="247.90" x2="316.30" y2="247.90"/>
<line x1="568.50" y1="247.90" x2="565.60" y2="247.90"/>
<line x1="313.40" y1="237.70" x2="316.30" y2="237.70"/>
<line x1="568.50" y1="237.70" x2="565.60" y2="237.70"/>
<line x1="313.40" y1="227.50" x2="318.60" y2="227.50"/>
<line x1="568.50" y1="227.50" x2="563.30" y2="227.50"/>
<line x1="313.40" y1="217.30" x2="316.30" y2="217.30"/>
<line x1="568.50" y1="217.30" x2="565.60" y2="217.30"/>
<line x1="313.40" y1="207.10" x2="316.30" y2="207.10"/>
<line x1="568.50" y1="207.10" x2="565.60" y2="207.10"/>
<line x1="313.40" y1="196.90" x2="316.30" y2="196.90"/>
<line x1="568.50" y1="196.90" x2="565.60" y2="196.90"/>
<line x1="313.40" y1="186.70" x2="316.30" y2="186.70"/>
<line x1="568.50" y1="186.70" x2="565.60" y2="186.70"/>
<line x1="313.40" y1="176.50" x2="318.60" y2="176.50"/>
<line x1="568.50" y1="176.50" x2="563.30" y2="176.50"/>
<line x1="313.40" y1="166.30" x2="316.30" y2="166.30"/>
<line x1="568.50" y1="166.30" x2="565.60" y2="166.30"/>
<line x1="313.40" y1="156.10" x2="316.30" y2="156.10"/>
<line x1="568.50" y1="156.10" x2="565.60" y2="156.10"/>
<line x1="313.40" y1="145.90" x2="316.30" y2="145.90"/>
<line x1="568.50" y1="145.90" x2="565.60" y2="145.90"/>
<line x1="313.40" y1="135.70" x2="316.30" y2="135.70"/>
<line x1="568.50" y1="135.70" x2="565.60" y2="135.70"/>
<line x1="313.40" y1="125.50" x2="318.60" y2="125.50"/>
<line x1="568.50" y1="125.50" x2="563.30" y2="125.50"/>
<line x1="313.40" y1="115.30" x2="316.30" y2="115.30"/>
<line x1="568.50" y1="115.30" x2="565.60" y2="115.30"/>
<line x1="313.40" y1="105.10" x2="316.30" y2="105.10"/>
<line x1="568.50" y1="105.10" x2="565.60" y2="105.10"/>
<line x1="313.40" y1="94.90" x2="316.30" y2="94.90"/>
<line x1="568.50" y1="94.90" x2="565.60" y2="94.90"/>
<line x1="313.40" y1="84.70" x2="316.30" y2="84.70"/>
<line x1="568.50" y1="84.70" x2="565.60" y2="84.70"/>
<line x1="313.40" y1="74.50" x2="318.60" y2="74.50"/>
<line x1="568.50" y1="74.50" x2="563.30" y2="74.50"/>
<line x1="313.40" y1="64.30" x2="316.30" y2="64.30"/>
<line x1="568.50" y1="64.30" x2="565.60" y2="64.30"/>
<line x1="313.40" y1="54.10" x2="316.30" y2="54.10"/>
<line x1="568.50" y1="54.10" x2="565.60" y2="54.10"/>
<line x1="313.40" y1="43.90" x2="316.30" y2="43.90"/>
<line x1="568.50" y1="43.90" x2="565.60" y2="43.90"/>
<line x1="313.40" y1="33.70" x2="316.30" y2="33.70"/>
<line x1="568.50" y1="33.70" x2="565.60" y2="33.70"/>
<line x1="313.40" y1="522.94" x2="316.30" y2="522.94"/>
<line x1="568.50" y1="522.94" x2="565.60" y2="522.94"/>
<line x1="313.40" y1="511.58" x2="316.30" y2="511.58"/>
<line x1="568.50" y1="511.58" x2="565.60" y2="511.58"/>
<line x1="313.40" y1="500.22" x2="316.30" y2="500.22"/>
<line x1="568.50" y1="500.22" x2="565.60" y2="500.22"/>
<line x1="313.40" y1="488.86" x2="316.30" y2="488.86"/>
<line x1="568.50" y1="488.86" x2="565.60" y2="488.86"/>
<line x1="313.40" y1="477.50" x2="318.60" y2="477.50"/>
<line x1="568.50" y1="477.50" x2="563.30" y2="477.50"/>
<line x1="313.40" y1="466.14" x2="316.30" y2="466.14"/>
<line x1="568.50" y1="466.14" x2="565.60" y2="466.14"/>
<line x1="313.40" y1="454.78" x2="316.30" y2="454.78"/>
<line x1="568.50" y1="454.78" x2="565.60" y2="454.78"/>
<line x1="313.40" y1="443.42" x2="316.30" y2="443.42"/>
<line x1="568.50" y1="443.42" x2="565.60" y2="443.42"/>
<line x1="313.40" y1="432.06" x2="316.30" y2="432.06"/>
<line x1="568.50" y1="432.06" x2="565.60" y2="432.06"/>
<line x1="313.40" y1="420.70" x2="318.60" y2="420.70"/>
<line x1="568.50" y1="420.70" x2="563.30" y2="420.70"/>
<line x1="313.40" y1="409.34" x2="316.30" y2="409.34"/>
<line x1="568.50" y1="409.34" x2="565.60" y2="409.34"/>
<line x1="313.40" y1="397.98" x2="316.30" y2="397.98"/>
<line x1="568.50" y1="397.98" x2="565.60" y2="397.98"/>
<line x1="313.40" y1="386.62" x2="316.30" y2="386.62"/>
<line x1="568.50" y1="386.62" x2="565.60" y2="386.62"/>
<line x1="313.40" y1="375.26" x2="316.30" y2="375.26"/>
<line x1="568.50" y1="375.26" x2="565.60" y2="375.26"/>
<line x1="313.40" y1="363.90" x2="318.60" y2="363.90"/>
<line x1="568.50" y1="363.90" x2="563.30" y2="363.90"/>
<line x1="313.40" y1="352.54" x2="316.30" y2="352.54"/>
<line x1="568.50" y1="352.54" x2="565.60" y2="352.54"/>
<line x1="313.40" y1="341.18" x2="316.30" y2="341.18"/>
<line x1="568.50" y1="341.18" x2="565.60" y2="341.18"/>
<line x1="313.40" y1="329.82" x2="316.30" y2="329.82"/>
<line x1="568.50" y1="329.82" x2="565.60" y2="329.82"/>
<line x1="313.40" y1="318.46" x2="316.30" y2="318.46"/>
<line x1="568.50" y1="318.46" x2="565.60" y2="318.46"/>
<line x1="313.40" y1="307.10" x2="318.60" y2="307.10"/>
<line x1="568.50" y1="307.10" x2="563.30" y2="307.10"/>
<line x1="313.40" y1="295.74" x2="316.30" y2="295.74"/>
<line x1="568.50" y1="295.74" x2="565.60" y2="295.74"/>
<line x1="313.40" y1="284.38" x2="316.30" y2="284.38"/>
<line x1="568.50" y1="284.38" x2="565.60" y2="284.38"/>
</g>
<text x="87.87" y="11.80" font-size="17" text-anchor="middle" >100.</text>
<text x="87.87" y="557.20" font-size="17" text-anchor="middle" >100.</text>
<text x="163.05" y="11.80" font-size="17" text-anchor="middle" >150.</text>
<text x="163.05" y="557.20" font-size="17" text-anchor="middle" >150.</text>
<text x="238.22" y="11.80" font-size="17" text-anchor="middle" >200.</text>
<text x="238.22" y="557.20" font-size="17" text-anchor="middle" >200.</text>
<text x="398.43" y="11.80" font-size="17" text-anchor="middle" >1.</text>
<text x="398.43" y="557.20" font-size="17" text-anchor="middle" >1.</text>
<text x="483.47" y="11.80" font-size="17" text-anchor="middle" >2.</text>
<text x="483.47" y="557.20" font-size="17" text-anchor="middle" >2.</text>
<text x="49.50" y="220.45" font-size="17" text-anchor="end" >5.</text>
<text x="49.50" y="476.25" font-size="17" text-anchor="end" >5.</text>
<text x="49.50" y="156.70" font-size="17" text-anchor="end" >10.</text>
<text x="49.50" y="412.50" font-size="17" text-anchor="end" >10.</text>
<text x="49.50" y="92.95" font-size="17" text-anchor="end" >15.</text>
<text x="49.50" y="348.75" font-size="17" text-anchor="end" >15.</text>
<text x="576.40" y="233.10" font-size="17" text-anchor="start" >0.1</text>
<text x="576.40" y="483.10" font-size="17" text-anchor="start" >0.1</text>
<text x="576.40" y="182.10" font-size="17" text-anchor="start" >0.2</text>
<text x="576.40" y="426.30" font-size="17" text-anchor="start" >0.2</text>
<text x="576.40" y="131.10" font-size="17" text-anchor="start" >0.3</text>
<text x="576.40" y="369.50" font-size="17" text-anchor="start" >0.3</text>
<text x="576.40" y="80.10" font-size="17" text-anchor="start" >0.4</text>
<text x="576.40" y="312.70" font-size="17" text-anchor="start" >0.4</text>
<rect x="161.75" y="211.00" width="2.50" height="11.80" fill="#e63300"/>
<rect x="159.45" y="236.30" width="2.50" height="11.80" fill="#009900"/>
<rect x="164.15" y="236.30" width="2.50" height="11.80" fill="#009900"/>
<rect x="157.05" y="255.60" width="2.50" height="11.80" fill="#0033ff"/>
<rect x="161.75" y="255.60" width="2.50" height="11.80" fill="#0033ff"/>
<rect x="166.45" y="255.60" width="2.50" height="11.80" fill="#0033ff"/>
<rect x="392.70" y="185.30" width="2.50" height="11.80" fill="#e63300"/>
<rect x="422.60" y="185.15" width="2.50" height="11.80" fill="#009900"/>
<rect x="427.30" y="185.15" width="2.50" height="11.80" fill="#009900"/>
<rect x="444.00" y="185.15" width="2.50" height="11.80" fill="#0033ff"/>
<rect x="448.70" y="185.15" width="2.50" height="11.80" fill="#0033ff"/>
<rect x="453.40" y="185.15" width="2.50" height="11.80" fill="#0033ff"/>
<rect x="161.45" y="466.50" width="2.50" height="11.80" fill="#e63300"/>
<rect x="159.45" y="494.30" width="2.50" height="11.80" fill="#009900"/>
<rect x="164.15" y="494.30" width="2.50" height="11.80" fill="#009900"/>
<rect x="157.05" y="512.20" width="2.50" height="11.80" fill="#0033ff"/>
<rect x="161.75" y="512.20" width="2.50" height="11.80" fill="#0033ff"/>
<rect x="166.45" y="512.20" width="2.50" height="11.80" fill="#0033ff"/>
<rect x="380.15" y="432.20" width="2.50" height="11.80" fill="#e63300"/>
<rect x="354.75" y="471.20" width="2.50" height="11.80" fill="#009900"/>
<rect x="359.45" y="471.20" width="2.50" height="11.80" fill="#009900"/>
<rect x="333.20" y="494.80" width="2.50" height="11.80" fill="#0033ff"/>
<rect x="337.90" y="494.80" width="2.50" height="11.80" fill="#0033ff"/>
<rect x="342.60" y="494.80" width="2.50" height="11.80" fill="#0033ff"/>
<text font-size="17" transform="translate(16.2,163.8) rotate(-90)">s <tspan font-size="21.5" font-weight="normal" dy="3" dx="-0.6">/</tspan><tspan dy="-3" dx="0.4"> T</tspan><tspan font-size="11" dy="-8">3</tspan></text>
<text font-size="17" transform="translate(16.2,435.3) rotate(-90)"><tspan font-size="14.5">ϵ</tspan> <tspan font-size="21.5" font-weight="normal" dy="3" dx="-0.6">/</tspan><tspan dy="-3" dx="0.4"> T</tspan><tspan font-size="11" dy="-8">4</tspan></text>
<text font-size="17" transform="translate(618.2,182.2) rotate(-90)">P <tspan font-weight="normal" dx="-0.8">[</tspan><tspan dx="-0.3">GeV</tspan> <tspan font-size="21.5" font-weight="normal" dy="3" dx="-0.6">/</tspan><tspan dy="-3" dx="0.4"> fm</tspan><tspan font-size="11" dy="-8" dx="0.4">3</tspan><tspan dy="8" dx="1.2" font-weight="normal">]</tspan></text>
<text font-size="17" transform="translate(617.5,475) rotate(-90)">dp <tspan font-size="21.5" font-weight="normal" dy="3" dx="0.4">/</tspan><tspan dy="-3" dx="0.7000000000000001"> d</tspan><tspan font-size="14.5" dx="0.6">ϵ</tspan><tspan font-weight="normal" dx="0.6"> (</tspan><tspan dx="-0.2">=</tspan> c<tspan font-size="11" dy="4" dx="0.3">S</tspan><tspan font-size="11" dy="-12" dx="-1.8">2</tspan><tspan dy="8" font-weight="normal" dx="-0.6">)</tspan></text>
<text font-size="17" x="140.6" y="578.6">T <tspan font-weight="normal">[</tspan><tspan dx="0.2">MeV</tspan><tspan font-weight="normal">]</tspan></text>
<text font-size="17" x="386.5" y="578.8"><tspan font-size="14.5">ϵ</tspan> <tspan font-weight="normal" dx="0.6">[</tspan><tspan dx="0.4">GeV</tspan> <tspan font-size="21.5" font-weight="normal" dy="3" dx="-0.6">/</tspan><tspan dy="-3" dx="-0.6"> fm</tspan><tspan font-size="11" dy="-8" dx="0.6">3</tspan><tspan dy="8" dx="1.6" font-weight="normal">]</tspan></text>
</svg></body></html>
